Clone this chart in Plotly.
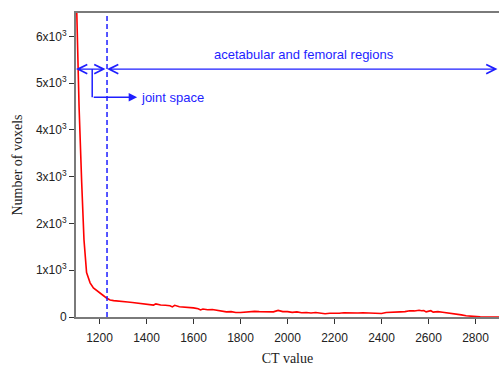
import plotly.graph_objects as go

ct_value = [1100, 1113, 1124, 1134, 1145, 1160, 1174, 1188, 1202, 1216, 1230, 1245, 1260,
            1280, 1300, 1320, 1340, 1360, 1380, 1400, 1420, 1430, 1440, 1460, 1480, 1500,
            1510, 1520, 1540, 1560, 1580, 1600, 1620, 1630, 1640, 1660, 1680, 1700, 1720,
            1740, 1760, 1780, 1800, 1820, 1840, 1860, 1880, 1900, 1920, 1940, 1960, 1980,
            2000, 2020, 2040, 2060, 2080, 2100, 2120, 2140, 2160, 2180, 2200, 2220, 2240,
            2260, 2280, 2300, 2320, 2340, 2360, 2380, 2400, 2420, 2440, 2460, 2480, 2500,
            2520, 2540, 2560, 2570, 2580, 2590, 2600, 2610, 2620, 2640, 2660, 2680, 2700,
            2720, 2740, 2760, 2780, 2800, 2820, 2850, 2900]
voxels = [7200, 4500, 2900, 1650, 950, 730, 620, 560, 510, 460, 405, 365, 350,
          345, 330, 320, 310, 300, 295, 285, 270, 255, 280, 255, 250, 240,
          215, 250, 220, 210, 215, 195, 175, 150, 170, 155, 160, 140, 120,
          110, 115, 95, 95, 105, 110, 120, 115, 115, 120, 110, 140, 115,
          115, 100, 110, 90, 95, 85, 95, 80, 70, 80, 75, 80, 90,
          85, 95, 85, 90, 85, 85, 80, 75, 95, 95, 95, 110, 115,
          135, 130, 145, 135, 140, 110, 120, 135, 105, 115, 100, 90, 80,
          65, 45, 25, 12, 5, 2, 0, 0]

y_tickvals = [0, 1000, 2000, 3000, 4000, 5000, 6000]
y_ticktext = ["0", "1x10<sup>3</sup>", "2x10<sup>3</sup>", "3x10<sup>3</sup>",
              "4x10<sup>3</sup>", "5x10<sup>3</sup>", "6x10<sup>3</sup>"]
x_tickvals = [1200, 1400, 1600, 1800, 2000, 2200, 2400, 2600, 2800]

boundary_ct = 1232
arrow_level = 5300
joint_level = 4700
joint_stem_ct = 1169
joint_arrow_end = 1360
x_min, x_max = 1100, 2900
y_min, y_max = 0, 6500

BLUE = "rgb(30,30,255)"
AXC = "#7a7a7a"

fig = go.Figure()
fig.add_trace(go.Scatter(x=ct_value, y=voxels, mode="lines",
                         line=dict(color="red", width=1.6), showlegend=False))

# dashed boundary
fig.add_shape(type="line", x0=boundary_ct, x1=boundary_ct, y0=y_min, y1=y_max,
              xref="x", yref="y", line=dict(color=BLUE, width=1.5, dash="5px,3px"))
# joint space stem
fig.add_shape(type="line", x0=joint_stem_ct, x1=joint_stem_ct, y0=arrow_level, y1=joint_level,
              xref="x", yref="y", line=dict(color=BLUE, width=1.5))

# double arrows
for a, b in [(x_min, boundary_ct), (boundary_ct, x_max)]:
    fig.add_annotation(x=a, y=arrow_level, ax=b, ay=arrow_level, xref="x", yref="y",
                       axref="x", ayref="y", showarrow=True, arrowhead=5, arrowside="end+start",
                       arrowsize=1.3, arrowwidth=1.4, arrowcolor=BLUE, text="",
                       startarrowhead=5, startarrowsize=1.3)
# joint space arrow
fig.add_annotation(x=joint_arrow_end, y=joint_level, ax=joint_stem_ct, ay=joint_level,
                   xref="x", yref="y", axref="x", ayref="y", showarrow=True, arrowhead=2,
                   arrowsize=1.2, arrowwidth=1.4, arrowcolor=BLUE, text="")
fig.add_annotation(x=joint_arrow_end + 10, y=joint_level, xref="x", yref="y", text="joint space",
                   showarrow=False, xanchor="left", yanchor="middle",
                   font=dict(family="Liberation Sans, Arial", size=13, color=BLUE))
fig.add_annotation(x=2070, y=5617, xref="x", yref="y",
                   text="acetabular and femoral regions", showarrow=False,
                   xanchor="center", yanchor="middle",
                   font=dict(family="Liberation Sans, Arial", size=13, color=BLUE))

fig.update_layout(
    width=499, height=366,
    margin=dict(l=76, r=0, t=13, b=49, autoexpand=False),
    paper_bgcolor="white", plot_bgcolor="white",
    font=dict(family="Liberation Sans, Arial", size=12, color="#222"),
)
fig.update_xaxes(range=[x_min, x_max], tickvals=x_tickvals, ticks="outside", ticklen=5,
                 tickcolor="#333", showgrid=False, zeroline=False, showline=True,
                 linecolor=AXC, linewidth=1.5, mirror=True, automargin=False,
                 ticklabelstandoff=4,
                 title=dict(text="CT value", standoff=14,
                            font=dict(family="Liberation Serif, Times New Roman", size=14, color="#222")))
fig.update_yaxes(range=[y_min, y_max], tickvals=y_tickvals, ticktext=y_ticktext,
                 ticks="outside", ticklen=5, tickcolor="#333", showgrid=False, zeroline=False,
                 showline=True, linecolor=AXC, linewidth=2, automargin=False,
                 title=dict(text="Number of voxels", standoff=10,
                            font=dict(family="Liberation Serif, Times New Roman", size=14, color="#222")))

fig.write_html("out.html", config={"displayModeBar": False},
               post_script="document.body.style.margin='0';")
